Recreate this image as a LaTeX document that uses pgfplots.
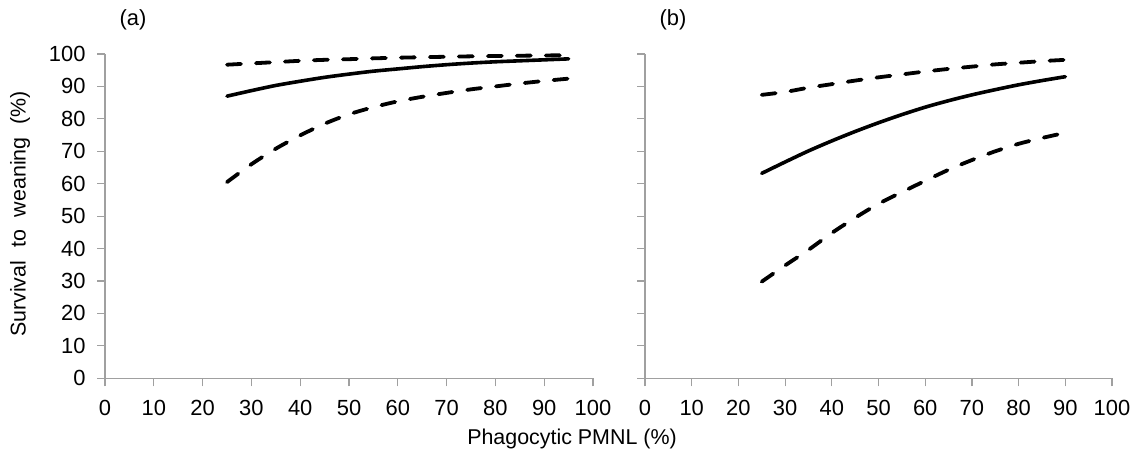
\documentclass[border=0pt]{standalone}
\usepackage{fontspec}
\setmainfont{Liberation Sans}
\usepackage{pgfplots}
\pgfplotsset{compat=1.18}
\definecolor{axgray}{HTML}{A0A0A0}

\pgfplotstableread{
x   lo    mid   hi
25  60.5  87.0  96.7
30  66.0  88.7  97.1
35  70.8  90.3  97.5
40  74.9  91.6  97.9
45  78.5  92.8  98.2
50  81.4  93.8  98.4
55  83.6  94.7  98.66
60  85.4  95.4  98.85
65  86.8  96.1  99.01
70  88.0  96.7  99.15
75  89.1  97.2  99.28
80  90.0  97.6  99.38
85  90.9  97.9  99.47
90  91.7  98.2  99.55
95  92.4  98.5  99.61
}\dataA

\pgfplotstableread{
x   lo    mid   hi
25  29.8  63.2  87.4
30  34.8  66.7  88.3
35  39.6  70.1  89.6
40  44.8  73.2  90.7
45  49.5  76.1  91.8
50  53.8  78.8  92.8
55  57.4  81.3  93.7
60  60.9  83.6  94.6
65  64.3  85.6  95.4
70  67.3  87.4  96.1
75  70.0  89.0  96.8
80  72.3  90.5  97.3
85  74.1  91.8  97.8
90  75.7  93.0  98.2
}\dataB

\pgfplotsset{
  panel/.style={
    scale only axis,
    height=324.3bp,
    xmin=0, xmax=100, ymin=0, ymax=100,
    axis lines*=left,
    axis line style={axgray, line width=1.2bp},
    xtick={0,10,...,100},
    ytick={0,10,...,100},
    tick align=outside,
    major tick length=8bp,
    tick style={axgray, line width=1.2bp},
    tick label style={font=\fontsize{22}{26}\selectfont},
    xticklabel style={yshift=-10bp},
    yticklabel style={xshift=-8bp},
    /pgf/number format/assume math mode=true,
    clip=false,
  },
  est/.style={black, line width=3.6bp, line join=round, line cap=round, smooth},
  ci/.style={black, line width=3.8bp, line join=round, line cap=round, dash pattern=on 14bp off 15bp, smooth},
}

\begin{document}
\begin{tikzpicture}
\path (0,0) rectangle (1139bp,464bp);

\begin{axis}[panel, at={(105bp,85.7bp)}, anchor=south west, width=488bp]
\addplot[ci] table[x=x, y=hi] {\dataA};
\addplot[est] table[x=x, y=mid] {\dataA};
\addplot[ci] table[x=x, y=lo] {\dataA};
\end{axis}

\begin{axis}[panel, at={(645bp,85.7bp)}, anchor=south west, width=467bp, yticklabels={}]
\addplot[ci] table[x=x, y=hi] {\dataB};
\addplot[est] table[x=x, y=mid] {\dataB};
\addplot[ci] table[x=x, y=lo] {\dataB};
\end{axis}

\node[font=\fontsize{21.5}{25}\selectfont, rotate=90] at (20bp,250bp) {Survival\hspace{7bp} to\hspace{7bp} weaning\hspace{7bp} (\%)};
\node[font=\fontsize{21.5}{25}\selectfont] at (572bp,25bp) {Phagocytic PMNL (\%)};
\node[font=\fontsize{22}{26}\selectfont] at (133bp,444bp) {(a)};
\node[font=\fontsize{22}{26}\selectfont] at (673bp,444bp) {(b)};
\end{tikzpicture}
\end{document}
